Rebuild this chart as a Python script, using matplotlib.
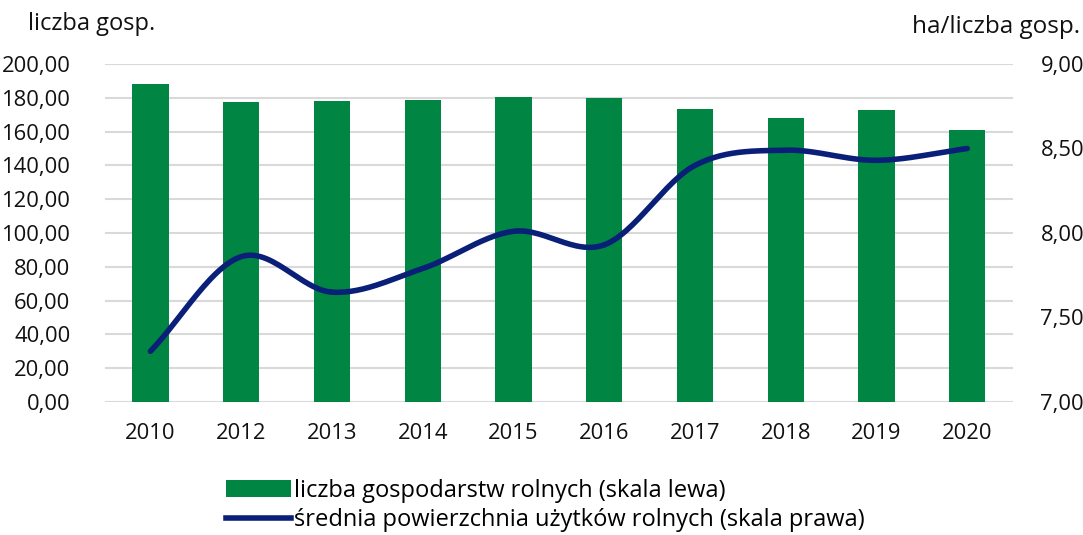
import numpy as np
import matplotlib
matplotlib.use("Agg")
import matplotlib.pyplot as plt
from matplotlib.patches import Patch
from matplotlib.lines import Line2D
from matplotlib.ticker import FuncFormatter

plt.rcParams['font.family'] = ['Open Sans', 'DejaVu Sans']

# dane
years = ['2010', '2012', '2013', '2014', '2015', '2016', '2017', '2018', '2019', '2020']
liczba_gosp = [188.2, 177.5, 178.1, 178.7, 180.3, 180.1, 173.4, 168.0, 172.6, 160.9]
srednia_pow = [7.30, 7.86, 7.65, 7.79, 8.01, 7.93, 8.40, 8.49, 8.43, 8.50]

GREEN = '#008542'
NAVY = '#0a1f78'
GRID = '#d9d9d9'


def smooth(xs, ys, n=30):
    # krzywa Catmull-Rom przez punkty (jak wygladzona linia w Excelu)
    xs = np.asarray(xs, float)
    ys = np.asarray(ys, float)
    px = np.concatenate([[2 * xs[0] - xs[1]], xs, [2 * xs[-1] - xs[-2]]])
    py = np.concatenate([[2 * ys[0] - ys[1]], ys, [2 * ys[-1] - ys[-2]]])
    out_x, out_y = [], []
    t = np.linspace(0, 1, n)
    for i in range(1, len(px) - 2):
        for p, out in ((px, out_x), (py, out_y)):
            p0, p1, p2, p3 = p[i - 1], p[i], p[i + 1], p[i + 2]
            seg = 0.5 * ((2 * p1) + (-p0 + p2) * t
                         + (2 * p0 - 5 * p1 + 4 * p2 - p3) * t ** 2
                         + (-p0 + 3 * p1 - 3 * p2 + p3) * t ** 3)
            out.extend(seg)
    return np.array(out_x), np.array(out_y)


fig = plt.figure(figsize=(10.83, 5.35), dpi=100)
ax = fig.add_axes([0.097, 0.2486, 0.838, 0.6318])
x = np.arange(len(years))

ax.bar(x, liczba_gosp, width=0.4, color=GREEN, zorder=2)
ax.set_ylim(0, 200)
ax.set_yticks(np.arange(0, 201, 20))
ax.set_xlim(-0.5, len(years) - 0.5)
ax.set_xticks(x)
ax.set_xticklabels(years)
fmt = FuncFormatter(lambda v, p: f'{v:.2f}'.replace('.', ','))
ax.yaxis.set_major_formatter(fmt)
ax.grid(axis='y', color=GRID, linewidth=1.5, zorder=0)
ax.set_axisbelow(True)
for s in ax.spines.values():
    s.set_visible(False)
ax.tick_params(axis='both', length=0, labelsize=15.8, colors='#111111')
ax.tick_params(axis='y', pad=25)
ax.tick_params(axis='x', pad=15)

ax2 = ax.twinx()
sx, sy = smooth(x, srednia_pow)
ax2.plot(sx, sy, color=NAVY, linewidth=4, solid_capstyle='round', zorder=3)
ax2.set_ylim(7.0, 9.0)
ax2.set_yticks([7.0, 7.5, 8.0, 8.5, 9.0])
ax2.yaxis.set_major_formatter(fmt)
for s in ax2.spines.values():
    s.set_visible(False)
ax2.tick_params(axis='y', length=0, labelsize=15.8, colors='#111111', pad=20)

fig.text(0.026, 0.955, 'liczba gosp.', fontsize=17, va='center', ha='left', color='#111111')
fig.text(0.997, 0.950, 'ha/liczba gosp.', fontsize=17.5, va='center', ha='right', color='#111111')

handles = [Patch(facecolor=GREEN, edgecolor='none'),
           Line2D([0], [0], color=NAVY, linewidth=4)]
labels = ['liczba gospodarstw rolnych (skala lewa)',
          'średnia powierzchnia użytków rolnych (skala prawa)']
fig.legend(handles, labels, loc='upper left', bbox_to_anchor=(0.209, 0.105),
           frameon=False, fontsize=17, handlelength=2.75, handletextpad=0.1,
           labelspacing=0.22, borderpad=0, borderaxespad=0)

fig.savefig('out.png', dpi=100)
